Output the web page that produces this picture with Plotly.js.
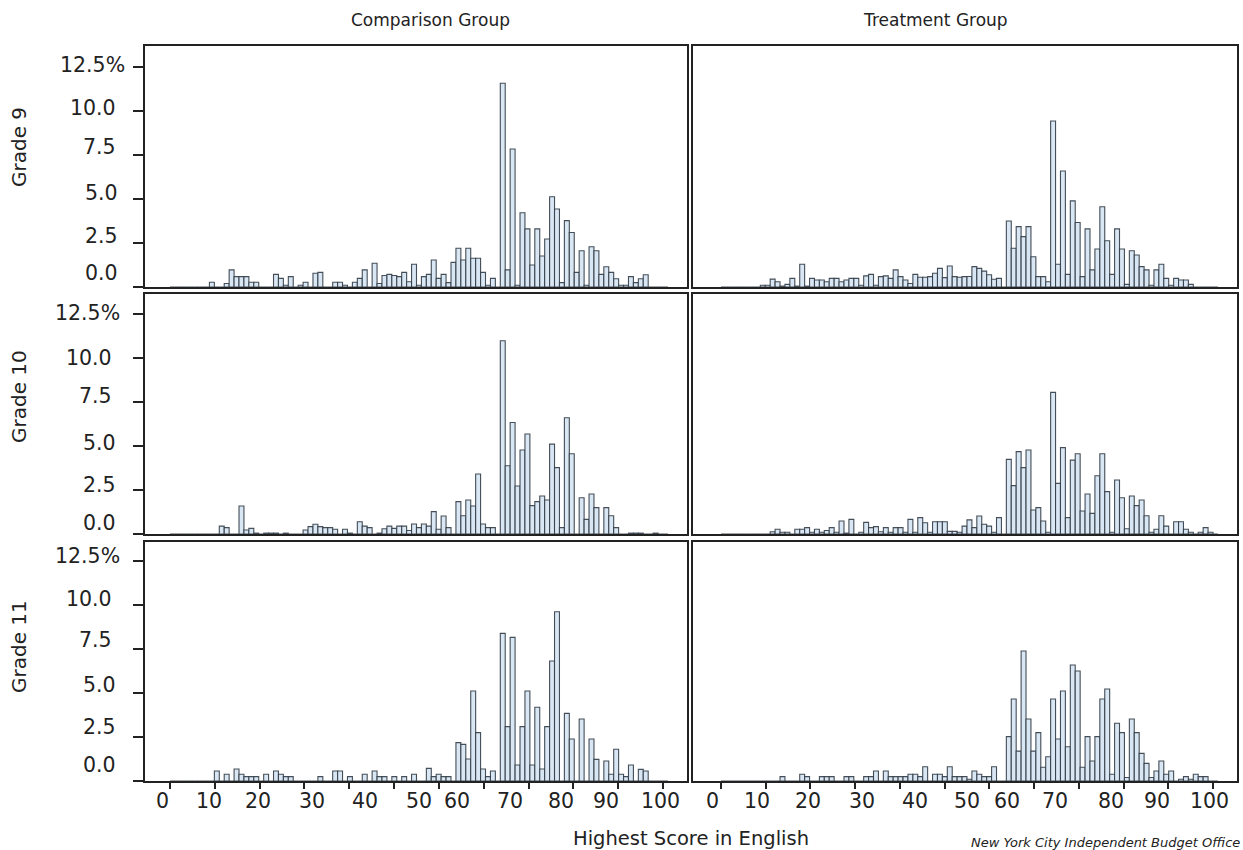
<!DOCTYPE html>
<html>
<head>
<meta charset="utf-8">
<script src="https://cdn.plot.ly/plotly-3.0.1.min.js"></script>
<style>html,body{margin:0;padding:0;background:#fff}#chart{width:1243px;height:850px}</style>
</head>
<body>
<div id="chart"></div>
<script>
// ---------------- data ----------------
const scores = [0,1,2,3,4,5,6,7,8,9,10,11,12,13,14,15,16,17,18,19,20,21,22,23,24,25,26,27,28,29,30,31,32,33,34,35,36,37,38,39,40,41,42,43,44,45,46,47,48,49,50,51,52,53,54,55,56,57,58,59,60,61,62,63,64,65,66,67,68,69,70,71,72,73,74,75,76,77,78,79,80,81,82,83,84,85,86,87,88,89,90,91,92,93,94,95,96,97,98,99,100];
const groups = ['Comparison Group', 'Treatment Group'];
const grades = ['Grade 9', 'Grade 10', 'Grade 11'];
const xTickLabels = ['0','10','20','30','40','50','60','70','80','90','100'];
const yTickValues = [0, 2.5, 5, 7.5, 10, 12.5];
const yTickLabels = ['0.0','2.5','5.0','7.5','10.0','12.5%'];
const xAxisTitle = 'Highest Score in English';
const sourceNote = 'New York City Independent Budget Office';

// percent of students at each score (index = score 0..100)
const g9Comparison = [0,0,0,0,0,0,0,0,0.27,0,
 0,0.2,0.97,0.59,0.59,0.59,0.27,0.27,0,0,
 0,0.72,0.49,0.1,0.59,0,0.1,0.27,0,0.78,
 0.83,0,0,0.27,0.27,0.1,0,0.27,0.49,0.97,
 0,1.35,0.2,0.65,0.72,0.65,0.59,0.83,0.3,1.29,
 0.1,0.59,0.72,1.53,0.49,0.72,0.25,1.4,2.2,1.53,
 2.2,1.63,1.63,0.83,0.1,0.49,0,11.57,0.97,7.84,
 0.1,4.22,3.3,1.25,3.3,1.76,2.73,5.13,4.43,0.25,
 3.77,3.1,0.83,2.06,0.1,2.29,2.06,0.72,1.15,0.83,
 0.47,0.1,0.1,0.59,0.25,0.47,0.7,0,0,0,
 0];
const g9Treatment = [0,0,0,0,0,0,0,0,0.1,0.1,
 0.45,0.3,0.05,0.15,0.49,0.05,1.29,0.05,0.49,0.4,
 0.4,0.3,0.49,0.49,0.3,0.4,0.49,0.49,0.1,0.63,
 0.72,0.1,0.59,0.63,0.49,0.97,0.59,0.4,0.2,0.72,
 0.55,0.55,0.59,0.78,1.06,0.53,1.19,0.59,0.55,0.59,
 0.6,1.16,1.06,0.9,0.7,0.44,0.49,0,3.75,2.2,
 3.43,2.86,3.43,1.72,0.59,0.59,0.3,9.43,1.29,6.59,
 0.72,4.89,3.66,0.59,3.3,0.97,2.16,4.56,2.63,0.72,
 3.3,2.16,0.15,2.06,1.82,1.16,0.97,0.1,0.97,1.29,
 0.49,0.1,0.49,0.4,0.4,0.15,0,0,0,0,
 0];
const g10Comparison = [0,0,0,0,0,0,0,0,0,0,
 0.45,0.36,0,0,1.59,0.23,0.32,0.05,0,0.05,
 0.05,0.05,0,0.05,0,0,0,0.23,0.42,0.55,
 0.42,0.36,0.36,0.27,0,0.27,0.05,0,0.7,0.45,
 0.36,0,0.05,0.3,0.45,0.32,0.45,0.45,0.2,0.57,
 0.36,0.57,0.45,1.27,0.27,1.02,0.36,0,1.84,1.04,
 1.93,1.59,3.41,0.57,0.36,0.36,0,10.98,3.88,6.34,
 2.73,4.77,5.68,1.61,1.84,2.16,1.93,5.11,3.77,0.36,
 6.61,4.56,0,2.06,0.83,2.27,1.5,0,1.5,1.04,
 0.36,0,0,0.05,0.05,0.05,0,0,0.05,0,
 0];
const g10Treatment = [0,0,0,0,0,0,0,0,0,0,
 0.13,0.27,0.1,0.1,0,0.27,0.27,0.36,0.1,0.27,
 0.1,0.2,0.36,0.1,0.74,0.05,0.83,0,0.1,0.66,
 0.36,0.42,0.13,0.36,0.1,0.36,0.36,0.1,0.83,0.1,
 0.93,0.64,0.1,0.7,0.7,0.7,0.15,0.15,0.1,0.45,
 0.8,0.36,1.02,0.55,0.45,0.1,0.93,0,4.24,2.75,
 4.68,3.77,4.77,1.36,1.5,0.74,0.1,8.05,2.88,4.91,
 0.93,4.2,4.56,1.31,2.27,1.17,3.31,4.56,2.41,0.1,
 3.07,2.06,0.3,2.16,1.61,1.93,1.04,0.1,0.27,1.04,
 0.45,0,0.7,0.7,0.27,0.1,0,0.1,0.36,0.1,
 0];
const g11Comparison = [0,0,0,0,0,0,0,0,0,0.57,
 0,0.38,0,0.68,0.38,0.25,0.25,0.25,0,0.38,
 0,0.57,0.38,0.25,0.25,0,0,0,0,0,
 0.25,0,0,0.57,0.57,0,0.25,0,0,0.38,
 0,0.57,0.25,0.25,0,0.25,0,0.25,0,0.38,
 0,0,0.72,0.25,0.38,0.25,0.25,0,2.18,2.08,
 1.25,5.11,2.75,0.68,0.25,0.57,0,8.39,3.09,8.16,
 0.91,3.09,5.11,0.91,4.19,0.68,3.09,6.82,9.62,0,
 3.84,2.39,0,3.52,0,2.39,1.23,0,1.14,0.38,
 1.8,0.38,0.25,0.91,0,0.66,0.57,0,0,0,
 0];
const g11Treatment = [0,0,0,0,0,0,0,0,0,0,
 0,0,0.25,0,0,0,0.38,0.25,0,0,
 0.25,0.25,0.25,0,0,0.25,0.25,0,0,0.25,
 0.25,0.57,0,0.57,0.25,0.25,0.25,0.25,0.38,0.38,
 0.25,0.81,0,0.38,0.38,0.25,0.81,0.25,0.25,0.25,
 0.1,0.57,0.38,0.25,0.25,0.81,0,0,2.52,4.66,
 1.7,7.39,3.52,1.7,2.75,0.78,1.38,4.66,2.39,5.11,
 1.95,6.59,6.25,0.78,2.52,1.14,2.52,4.66,5.23,0.38,
 3.28,2.75,0.2,3.52,2.75,1.57,1.0,0.2,0.57,1.14,
 0.38,0.57,0,0.1,0.25,0.1,0.38,0.25,0.25,0,
 0];

const panelSeries = [
  [g9Comparison, g9Treatment],
  [g10Comparison, g10Treatment],
  [g11Comparison, g11Treatment]
];

// ---------------- layout constants (pixels) ----------------
const W = 1243, H = 850;
const colPx = [[145, 687], [693, 1237]];
const rowPx = [[46, 287], [294, 534], [542, 781]];
const xRanges = [[-5.07, 104.87], [-5.69, 104.88]];
const yTops = [13.69, 13.64, 13.58];
const xTickMarks = Array.from({length: 12}, (_, i) => i * 100 / 11);
const yLabelRight = [[119,119,119,117.3,116.7,126],[117,117,117,113,113,120.7],[117,117,117,113,113,121]];
const yLabelShift = [[14,7,6,8,3,2],[10.7,5,2.7,6,0,1],[16,9.6,8.3,9.3,5.7,5]];
const xLabelCenter = [[162,209,258,312,365,419,457,510,561,606,660],[712,757,808,862,915,967,1007,1055,1111,1157,1209]];
const px = v => v / W;
const py = v => 1 - v / H;

const FONT = 'DejaVu Sans, Liberation Sans, sans-serif';
const INK = '#222222';
const BAR_FILL = 'rgb(217,230,243)';
const BAR_LINE = 'rgba(50,60,70,0.9)';

const traces = [];
const layout = {
  width: W, height: H,
  margin: {l: 0, r: 0, t: 0, b: 0},
  paper_bgcolor: '#ffffff', plot_bgcolor: '#ffffff',
  showlegend: false, bargap: 0, barmode: 'overlay',
  annotations: []
};

for (let r = 0; r < 3; r++) {
  for (let c = 0; c < 2; c++) {
    const k = r * 2 + c + 1;
    const xn = 'x' + (k > 1 ? k : ''), yn = 'y' + (k > 1 ? k : '');
    traces.push({
      type: 'bar', x: scores, y: panelSeries[r][c],
      xaxis: xn, yaxis: yn, width: 1, offset: 0,
      marker: {color: BAR_FILL, line: {color: BAR_LINE, width: 1.1}},
      hoverinfo: 'skip'
    });
    layout['xaxis' + (k > 1 ? k : '')] = {
      domain: [px(colPx[c][0]), px(colPx[c][1])],
      range: xRanges[c], anchor: yn,
      showline: true, mirror: true, linecolor: INK, linewidth: 2,
      showgrid: false, zeroline: false,
      ticks: r === 2 ? 'outside' : '', tickvals: xTickMarks,
      ticklen: 6, tickwidth: 2, tickcolor: INK,
      showticklabels: false, fixedrange: true
    };
    layout['yaxis' + (k > 1 ? k : '')] = {
      domain: [py(rowPx[r][1]), py(rowPx[r][0])],
      range: [0, yTops[r]], anchor: xn,
      showline: true, mirror: true, linecolor: INK, linewidth: 2,
      showgrid: false, zeroline: false,
      ticks: c === 0 ? 'outside' : '', tickvals: yTickValues,
      ticklen: 10, tickwidth: 2, tickcolor: INK,
      showticklabels: false, fixedrange: true
    };
  }
}

const ann = (o) => layout.annotations.push(Object.assign({showarrow: false, xanchor: 'center', yanchor: 'middle', font: {family: FONT, size: 20, color: INK}}, o));

// column titles
ann({text: groups[0], xref: 'paper', yref: 'paper', x: px(430), y: py(20), font: {family: FONT, size: 17, color: INK}});
ann({text: groups[1], xref: 'paper', yref: 'paper', x: px(936), y: py(20), font: {family: FONT, size: 17, color: INK}});
// grade (row) labels
const gradeY = [147, 397, 647];
grades.forEach((g, r) => ann({text: g, xref: 'paper', yref: 'paper', x: px(19), y: py(gradeY[r]), textangle: -90}));
// y tick labels (left column)
for (let r = 0; r < 3; r++) {
  const yn = 'y' + (r * 2 + 1 > 1 ? r * 2 + 1 : '');
  yTickLabels.forEach((t, i) => ann({
    text: t, xref: 'paper', x: px(yLabelRight[r][i] + 1), xanchor: 'right',
    yref: yn, y: yTickValues[i], yshift: yLabelShift[r][i], yanchor: 'middle',
    font: {family: FONT, size: 20.5, color: INK}
  }));
}
// x tick labels (bottom row)
for (let c = 0; c < 2; c++) {
  xTickLabels.forEach((t, i) => ann({
    text: t, xref: 'paper', yref: 'paper', x: px(xLabelCenter[c][i]), y: py(800.5),
    font: {family: FONT, size: 20.5, color: INK}
  }));
}
// x axis title
ann({text: xAxisTitle, xref: 'paper', yref: 'paper', x: px(691), y: py(838), font: {family: FONT, size: 19.5, color: INK}});
// source note
ann({text: '<i>' + sourceNote + '</i>', xref: 'paper', yref: 'paper', x: px(969), xanchor: 'left', y: py(842), yanchor: 'middle',
     font: {family: FONT, size: 13, color: INK}});

Plotly.newPlot('chart', traces, layout, {staticPlot: true, displayModeBar: false});
</script>
</body>
</html>
